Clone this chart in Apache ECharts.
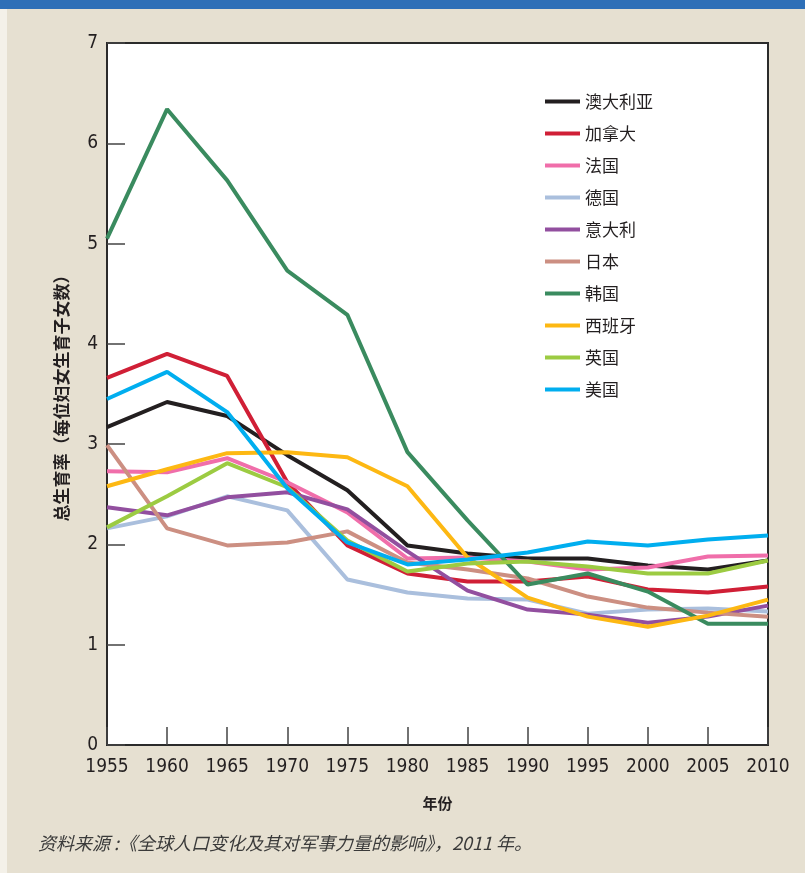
<!DOCTYPE html>
<html>
<head>
<meta charset="utf-8">
<script src="https://cdn.jsdelivr.net/npm/echarts@6/dist/echarts.min.js"></script>
<style>
  html, body { margin: 0; padding: 0; background: #e6e0d1; }
  #chart { width: 805px; height: 873px; }
</style>
</head>
<body>
<div id="chart"></div>
<script>
// years on the x axis
var years = ['1955','1960','1965','1970','1975','1980','1985','1990','1995','2000','2005','2010'];

// total fertility rate per country
var australia = [3.17, 3.42, 3.28, 2.89, 2.54, 1.99, 1.91, 1.86, 1.86, 1.79, 1.75, 1.84];
var canada    = [3.66, 3.90, 3.68, 2.62, 1.99, 1.71, 1.63, 1.63, 1.68, 1.55, 1.52, 1.58];
var france    = [2.73, 2.72, 2.86, 2.62, 2.32, 1.86, 1.87, 1.83, 1.75, 1.77, 1.88, 1.89];
var germany   = [2.16, 2.28, 2.48, 2.34, 1.65, 1.52, 1.46, 1.45, 1.31, 1.35, 1.36, 1.33];
var italy     = [2.37, 2.29, 2.47, 2.52, 2.35, 1.93, 1.54, 1.35, 1.30, 1.22, 1.28, 1.39];
var japan     = [2.99, 2.16, 1.99, 2.02, 2.13, 1.82, 1.75, 1.66, 1.48, 1.37, 1.32, 1.28];
var korea     = [5.05, 6.34, 5.63, 4.73, 4.29, 2.92, 2.24, 1.60, 1.71, 1.53, 1.21, 1.21];
var spain     = [2.58, 2.75, 2.91, 2.92, 2.87, 2.58, 1.87, 1.47, 1.28, 1.18, 1.29, 1.45];
var uk        = [2.17, 2.48, 2.81, 2.57, 2.04, 1.73, 1.81, 1.83, 1.78, 1.71, 1.71, 1.84];
var usa       = [3.45, 3.72, 3.32, 2.56, 2.02, 1.80, 1.85, 1.92, 2.03, 1.99, 2.05, 2.09];

var names  = ['澳大利亚','加拿大','法国','德国','意大利','日本','韩国','西班牙','英国','美国'];
var values = [australia, canada, france, germany, italy, japan, korea, spain, uk, usa];
var colors = ['#231f20','#d01f36','#f06eaa','#aabfdd','#924f9f','#cc8f82','#3a8b5f','#fdb813','#9ccb42','#00aeef'];

var yTicks = [0, 1, 2, 3, 4, 5, 6, 7];

var latin = "'Liberation Sans Narrow', 'DejaVu Sans Condensed', 'Noto Sans', sans-serif";
var cjk = "'Noto Sans CJK SC', sans-serif";

var chart = echarts.init(document.getElementById('chart'));

var series = names.map(function (n, i) {
    return {
        name: n,
        type: 'line',
        data: values[i],
        symbol: 'none',
        lineStyle: { width: 4, color: colors[i] },
        itemStyle: { color: colors[i] }
    };
});

var option = {
    backgroundColor: '#e6e0d1',
    animation: false,
    grid: {
        left: 107, right: 37, top: 43, bottom: 128,
        show: true,
        backgroundColor: '#ffffff',
        borderColor: '#2b2b2b',
        borderWidth: 2
    },
    graphic: [
        { type: 'rect', left: 0, top: 0, shape: { width: 805, height: 9 }, style: { fill: '#2e6fb7' } },
        { type: 'rect', left: 0, top: 9, shape: { width: 7, height: 864 }, style: { fill: '#f4f1e9' } },
        {
            type: 'text', left: 38, top: 834,
            style: {
                text: '资料来源 :《全球人口变化及其对军事力量的影响》，2011 年。',
                font: 'italic 18px ' + cjk,
                fill: '#3a3a3a'
            }
        }
    ],
    legend: {
        orient: 'vertical',
        left: 540, top: 88,
        icon: 'rect',
        itemWidth: 35, itemHeight: 4,
        itemGap: 15,
        data: names,
        textStyle: { fontFamily: cjk, fontSize: 17, color: '#231f20', padding: [0, 0, 0, 0] }
    },
    xAxis: {
        type: 'category',
        data: years,
        boundaryGap: false,
        name: '年份',
        nameLocation: 'middle',
        nameGap: 51,
        nameTextStyle: { fontFamily: cjk, fontSize: 15, fontWeight: 'bold', color: '#231f20' },
        axisLine: { lineStyle: { color: '#2b2b2b', width: 2 } },
        axisTick: { inside: true, length: 18, lineStyle: { color: '#444', width: 1.5 } },
        axisLabel: { margin: 13, fontFamily: latin, fontSize: 19, color: '#231f20' },
        splitLine: { show: false }
    },
    yAxis: {
        type: 'value',
        min: yTicks[0], max: yTicks[yTicks.length - 1], interval: 1,
        name: '总生育率（每位妇女生育子女数）',
        nameLocation: 'middle',
        nameGap: 37,
        nameRotate: 90,
        nameTextStyle: { fontFamily: cjk, fontSize: 17, fontWeight: 'bold', color: '#231f20' },
        axisLine: { show: true, lineStyle: { color: '#2b2b2b', width: 2 } },
        axisTick: { show: true, inside: true, length: 18, lineStyle: { color: '#444', width: 1.5 } },
        axisLabel: { margin: 9, fontFamily: latin, fontSize: 19, color: '#231f20' },
        splitLine: { show: false }
    },
    series: series
};

chart.setOption(option);
</script>
</body>
</html>
